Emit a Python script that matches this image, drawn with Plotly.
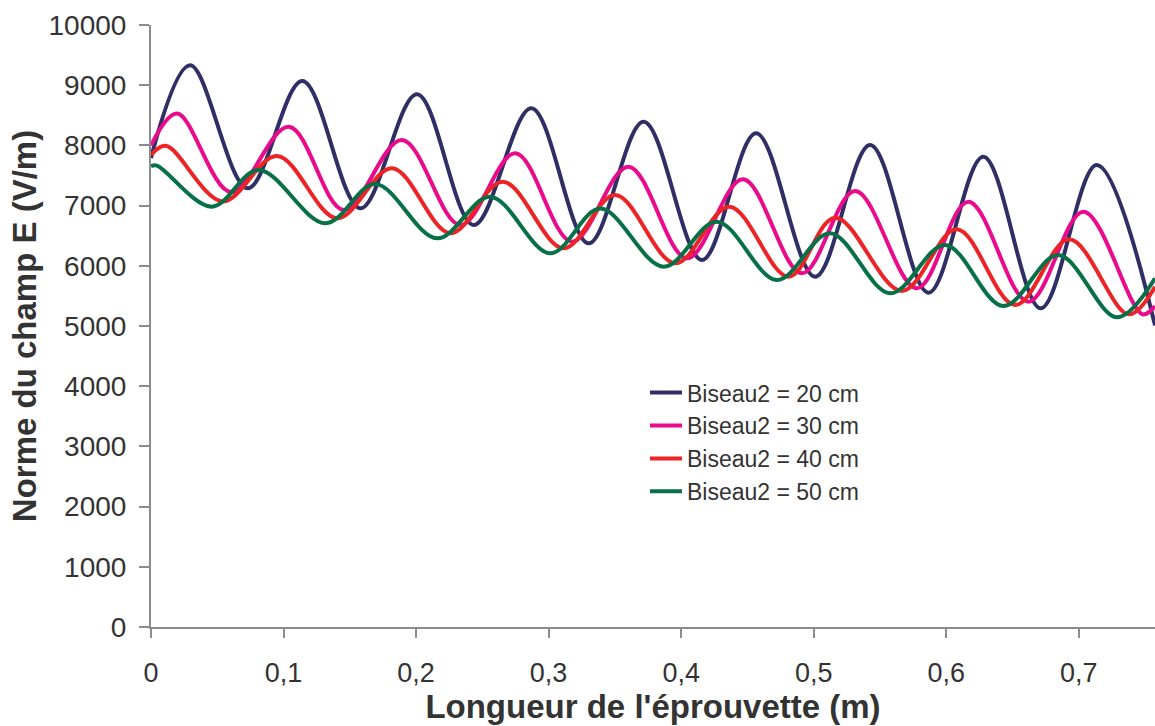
import plotly.graph_objects as go

# Biseau2 = 20 cm
x_20 = [0, 0.0295, 0.0730, 0.1142, 0.1580, 0.2007, 0.2435, 0.2870, 0.3302, 0.3717,
        0.4157, 0.4566, 0.5011, 0.5426, 0.5866, 0.6280, 0.6713, 0.7136, 0.7575]
y_20 = [7790, 9330, 7287, 9070, 6955, 8850, 6678, 8616, 6373, 8394,
        6096, 8200, 5819, 8007, 5553, 7812, 5294, 7674, 5010]

# Biseau2 = 30 cm
x_30 = [0, 0.0197, 0.0603, 0.1040, 0.1454, 0.1894, 0.2334, 0.2749, 0.3176, 0.3603,
        0.4044, 0.4466, 0.4911, 0.5313, 0.5778, 0.6167, 0.6620, 0.7035, 0.7480, 0.7575]
y_30 = [8000, 8530, 7225, 8311, 6927, 8090, 6678, 7868, 6401, 7647,
        6124, 7437, 5875, 7243, 5626, 7065, 5404, 6899, 5195, 5330]

# Biseau2 = 40 cm
x_40 = [0, 0.0112, 0.0540, 0.0952, 0.1404, 0.1819, 0.2259, 0.2655, 0.3113, 0.3503,
        0.3956, 0.4365, 0.4810, 0.5162, 0.5665, 0.6080, 0.6520, 0.6929, 0.7375, 0.7575]
y_40 = [7840, 7993, 7070, 7824, 6789, 7619, 6540, 7397, 6290, 7176,
        6041, 6982, 5819, 6800, 5581, 6606, 5349, 6440, 5195, 5653]

# Biseau2 = 50 cm
x_50 = [0, 0.0045, 0.0458, 0.0813, 0.1316, 0.1693, 0.2158, 0.2560, 0.3013, 0.3390,
        0.3867, 0.4270, 0.4722, 0.5124, 0.5577, 0.5992, 0.6431, 0.6846, 0.7287, 0.7575]
y_50 = [7655, 7665, 6982, 7591, 6706, 7359, 6457, 7148, 6207, 6950,
        5985, 6733, 5764, 6539, 5543, 6346, 5332, 6179, 5144, 5792]

series_names = ["Biseau2 = 20 cm", "Biseau2 = 30 cm", "Biseau2 = 40 cm", "Biseau2 = 50 cm"]
series_colors = ["#2F2F66", "#EA0A8C", "#EC2426", "#087047"]

x_tickvals = [0, 0.1, 0.2, 0.3, 0.4, 0.5, 0.6, 0.7]
x_ticktext = ["0", "0,1", "0,2", "0,3", "0,4", "0,5", "0,6", "0,7"]
y_tickvals = [0, 1000, 2000, 3000, 4000, 5000, 6000, 7000, 8000, 9000, 10000]
y_ticktext = [str(v) for v in y_tickvals]

FONT = "Liberation Sans, Arial, sans-serif"
TXT = "#333333"
AX = "#8C8C8C"

fig = go.Figure()
for xs, ys, name, col in zip([x_20, x_30, x_40, x_50], [y_20, y_30, y_40, y_50],
                             series_names, series_colors):
    fig.add_trace(go.Scatter(x=xs, y=ys, name=name, mode="lines",
                             line=dict(color=col, width=4, shape="spline", smoothing=1.0)))

fig.update_layout(
    width=1155, height=726,
    margin=dict(l=151, r=0, t=25, b=99),
    paper_bgcolor="white", plot_bgcolor="white",
    font=dict(family=FONT, color=TXT),
    showlegend=True,
    legend=dict(x=0.492, y=0.425, xanchor="left", yanchor="top",
                bgcolor="rgba(0,0,0,0)", font=dict(size=23, color=TXT),
                itemwidth=32, tracegroupgap=0),
)
fig.update_xaxes(range=[0, 0.7575], tickvals=x_tickvals, ticktext=x_ticktext,
                 showline=True, linecolor=AX, linewidth=2,
                 ticks="outside", ticklen=9, tickcolor=AX, tickwidth=1.5,
                 showgrid=False, zeroline=False,
                 tickfont=dict(size=27, color=TXT), ticklabelstandoff=12,
                 title=dict(text="<b>Longueur de l'éprouvette (m)</b>",
                            font=dict(size=33, color=TXT), standoff=4))
fig.update_yaxes(range=[0, 10000], tickvals=y_tickvals, ticktext=y_ticktext,
                 showline=True, linecolor=AX, linewidth=2,
                 ticks="outside", ticklen=10, tickcolor=AX, tickwidth=1.5,
                 showgrid=False, zeroline=False,
                 tickfont=dict(size=28, color=TXT), ticklabelstandoff=7,
                 title=dict(text="<b>Norme du champ E (V/m)</b>",
                            font=dict(size=33, color=TXT), standoff=2))

fig.write_html("out.html",
               config={"displayModeBar": False},
               post_script="document.body.style.margin='0';document.body.style.overflow='hidden';")
